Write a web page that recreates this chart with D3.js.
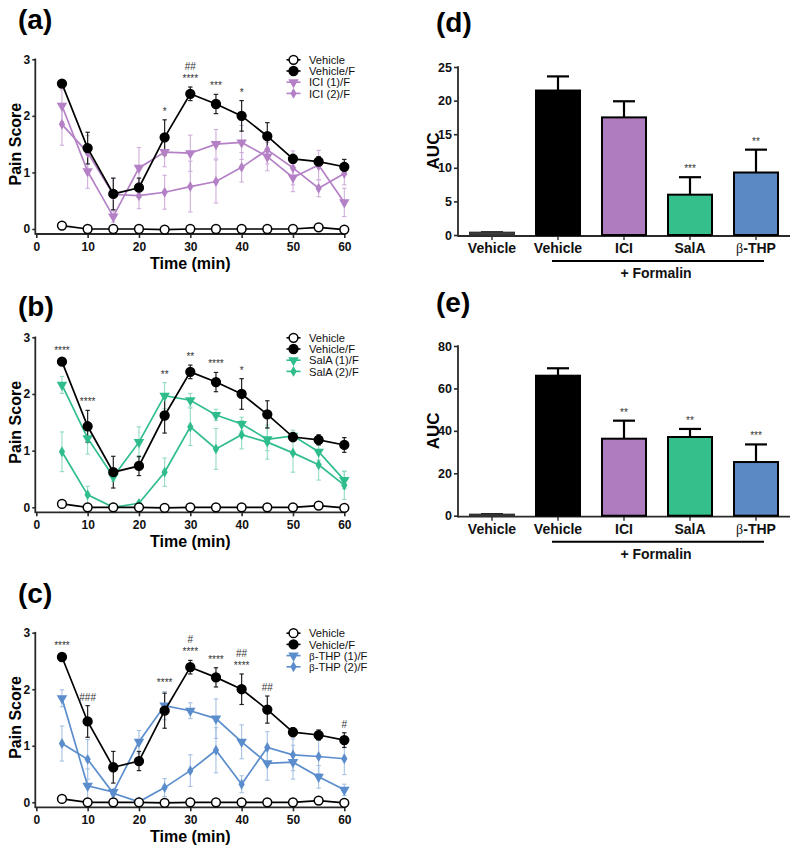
<!DOCTYPE html>
<html><head><meta charset="utf-8">
<script src="https://cdn.jsdelivr.net/npm/d3@7/dist/d3.min.js"></script>
<style>
body{margin:0;background:#fff}
text{font-family:"Liberation Sans",Arial,sans-serif}
</style>
</head><body>
<svg id="chart" width="800" height="852"></svg>
<script>
// ---------------- DATA ----------------
const times = [5,10,15,20,25,30,35,40,45,50,55,60];
const timeTicks = [0,10,20,30,40,50,60];
const painTicks = [0,1,2,3];

const vehicle    = [0.06,0.00,0.00,0.00,-0.01,0.00,0.00,0.00,0.00,0.00,0.03,-0.01];
const vehicleErr = [0.02,0.01,0.01,0.01,0.01,0.01,0.01,0.01,0.01,0.01,0.02,0.01];
const vehicleF    = [2.57,1.43,0.62,0.73,1.62,2.39,2.21,2.00,1.64,1.24,1.19,1.10];
const vehicleFErr = [0.05,0.28,0.28,0.17,0.31,0.12,0.17,0.27,0.24,0.08,0.09,0.13];

const ici1    = [2.18,1.02,0.22,1.08,1.36,1.34,1.50,1.53,1.28,0.91,1.13,0.47];
const ici1Err = [0.28,0.30,0.10,0.36,0.26,0.32,0.26,0.30,0.25,0.25,0.26,0.25];
const ici2    = [1.85,1.35,0.61,0.59,0.65,0.75,0.84,1.09,1.40,1.08,0.72,0.98];
const ici2Err = [0.37,0.30,0.28,0.23,0.30,0.45,0.38,0.26,0.25,0.30,0.15,0.20];

const salA1    = [2.16,1.22,0.54,1.15,1.97,1.89,1.63,1.47,1.20,1.26,0.98,0.48];
const salA1Err = [0.15,0.28,0.08,0.27,0.23,0.12,0.10,0.12,0.20,0.10,0.15,0.15];
const salA2    = [0.98,0.22,0.00,0.07,0.62,1.42,1.03,1.28,1.15,0.96,0.75,0.39];
const salA2Err = [0.35,0.15,0.02,0.03,0.25,0.33,0.36,0.25,0.30,0.34,0.27,0.25];

const thp1    = [1.84,0.29,0.18,1.07,1.71,1.62,1.48,1.07,0.69,0.71,0.45,0.22];
const thp1Err = [0.15,0.30,0.05,0.20,0.25,0.14,0.35,0.30,0.30,0.30,0.20,0.10];
const thp2    = [1.04,0.76,0.16,0.01,0.26,0.56,0.92,0.32,0.97,0.84,0.81,0.77];
const thp2Err = [0.31,0.35,0.05,0.02,0.16,0.28,0.40,0.15,0.28,0.28,0.30,0.28];

const annA = [{t:25,lines:["*"]},{t:30,lines:["****","##"]},{t:35,lines:["***"]},{t:40,lines:["*"]}];
const annB = [{t:5,lines:["****"]},{t:10,lines:["****"]},{t:25,lines:["**"]},{t:30,lines:["**"]},{t:35,lines:["****"]},{t:40,lines:["*"]}];
const annC = [{t:5,lines:["****"]},{t:10,lines:["###"]},{t:25,lines:["****"]},{t:30,lines:["****","#"]},{t:35,lines:["****"]},{t:40,lines:["****","##"]},{t:45,lines:["##"]},{t:60,lines:["#"]}];

const barGroups = ["Vehicle","Vehicle/F","ICI","SalA","THP"];
const barLabels = ["Vehicle","Vehicle","ICI","SalA","β-THP"];
const aucD    = [0.35,21.5,17.5,6.0,9.3];
const aucDErr = [0.05,2.1,2.4,2.6,3.4];
const aucDStars = ["","","","***","**"];
const aucDTicks = [0,5,10,15,20,25];
const aucE    = [0.5,66.0,36.3,37.1,25.3];
const aucEErr = [0.2,3.5,8.5,3.8,8.3];
const aucEStars = ["","","**","**","***"];
const aucETicks = [0,20,40,60,80];

// ---------------- STYLE ----------------
const PURPLE = "#b480c6", PURPLE_E = "#cfaedb", PURPLE_BAR = "#b07cc0";
const GREEN = "#30bd8c", GREEN_E = "#93dcbf", GREEN_BAR = "#35c08b";
const BLUE = "#5b8dcc", BLUE_E = "#a6c1e4", BLUE_BAR = "#5b89c4";
const AX = "#2a2a2a";

const svg = d3.select("#chart");
svg.append("rect").attr("width",800).attr("height",852).attr("fill","#fff");

function marker(g, type, cx, cy, color, fill){
  if(type==="circle"){
    g.append("circle").attr("cx",cx).attr("cy",cy).attr("r",4.4)
      .attr("fill",fill).attr("stroke",color).attr("stroke-width",1.5);
  } else if(type==="tri"){
    g.append("path").attr("d",d3.symbol().type(d3.symbolTriangle).size(48)())
      .attr("transform",`translate(${cx},${cy}) rotate(180)`).attr("fill",color);
  } else {
    g.append("path").attr("d",d3.symbol().type(d3.symbolDiamond).size(34)())
      .attr("transform",`translate(${cx},${cy})`).attr("fill",color);
  }
}

function labelText(sel, s){
  if(s.indexOf("β")>=0){
    const parts = s.split("β");
    sel.append("tspan").text(parts[0]);
    sel.append("tspan").text("β").style("font-family","'Liberation Serif','Times New Roman',serif").style("font-weight","normal");
    sel.append("tspan").text(parts[1]);
  } else sel.text(s);
}

function linePanel(cfg){
  const g = svg.append("g");
  const x = d3.scaleLinear().domain([0,60]).range([36.3,344.3]);
  const y = d3.scaleLinear().domain([0,3]).range([cfg.y0,cfg.y3]);
  const axY = cfg.y0 + 5;
  g.append("text").attr("x",18).attr("y",cfg.labelY).attr("font-size",28).attr("font-weight","bold").text(cfg.label);
  const ya = g.append("g").attr("transform",`translate(35.3,0)`)
    .call(d3.axisLeft(y).tickValues(painTicks).tickSize(3).tickPadding(2).tickFormat(d3.format("d")));
  ya.select(".domain").remove();
  ya.selectAll("line").attr("stroke",AX).attr("stroke-width",1.6);
  ya.selectAll("text").attr("font-size",12).attr("font-weight","bold").attr("fill","#111")
    .style("font-family","'Liberation Sans',Arial,sans-serif");
  const xa = g.append("g").attr("transform",`translate(0,${axY})`)
    .call(d3.axisBottom(x).tickValues(timeTicks).tickSize(4).tickPadding(4));
  xa.select(".domain").remove();
  xa.selectAll("line").attr("stroke",AX).attr("stroke-width",1.6);
  xa.selectAll("text").attr("font-size",12).attr("font-weight","bold").attr("fill","#111")
    .style("font-family","'Liberation Sans',Arial,sans-serif");
  g.append("line").attr("x1",35.3).attr("x2",35.3).attr("y1",cfg.y3-0.8).attr("y2",axY+0.8).attr("stroke",AX).attr("stroke-width",1.8);
  g.append("line").attr("x1",35.3).attr("x2",345).attr("y1",axY).attr("y2",axY).attr("stroke",AX).attr("stroke-width",1.8);
  g.append("text").attr("transform",`translate(20.5,${(cfg.y0+cfg.y3)/2}) rotate(-90)`)
    .attr("text-anchor","middle").attr("font-size",16).attr("font-weight","bold").text("Pain Score");
  g.append("text").attr("x",190.3).attr("y",cfg.y0+39.5).attr("text-anchor","middle")
    .attr("font-size",16).attr("font-weight","bold").text("Time (min)");

  const series = [
    {vals:cfg.s2, errs:cfg.s2e, color:cfg.color, ecolor:cfg.ecolor, type:"dia", fill:cfg.color},
    {vals:cfg.s1, errs:cfg.s1e, color:cfg.color, ecolor:cfg.ecolor, type:"tri", fill:cfg.color},
    {vals:vehicle, errs:vehicleErr, color:"#000", ecolor:"#000", type:"circle", fill:"#fff"},
    {vals:vehicleF, errs:vehicleFErr, color:"#000", ecolor:"#222", type:"circle", fill:"#000"}
  ];
  const line = d3.line().x((d,i)=>x(times[i])).y(d=>y(d));
  series.forEach(s=>{
    s.vals.forEach((v,i)=>{
      const cx = x(times[i]), lo=y(v-s.errs[i]), hi=y(v+s.errs[i]);
      const eg = g.append("g").attr("stroke",s.ecolor).attr("stroke-width",s.color==="#000"?1.2:1.1);
      eg.append("line").attr("x1",cx).attr("x2",cx).attr("y1",lo).attr("y2",hi);
      eg.append("line").attr("x1",cx-2.2).attr("x2",cx+2.2).attr("y1",lo).attr("y2",lo);
      eg.append("line").attr("x1",cx-2.2).attr("x2",cx+2.2).attr("y1",hi).attr("y2",hi);
    });
  });
  series.forEach(s=>{
    g.append("path").datum(s.vals).attr("d",line).attr("fill","none")
      .attr("stroke",s.color).attr("stroke-width",1.7);
    s.vals.forEach((v,i)=>marker(g,s.type,x(times[i]),y(v),s.color,s.fill));
  });
  cfg.ann.forEach(a=>{
    const i = times.indexOf(a.t);
    const top = d3.max([vehicleF[i]+vehicleFErr[i], cfg.s1[i]+cfg.s1e[i], cfg.s2[i]+cfg.s2e[i]]);
    a.lines.forEach((txt,k)=>{
      g.append("text").attr("x",x(a.t)).attr("y",y(top)-5-k*12).attr("text-anchor","middle")
        .attr("font-size",10).attr("fill","#333").text(txt);
    });
  });
  const leg = [
    {name:"Vehicle", type:"circle", color:"#000", fill:"#fff"},
    {name:"Vehicle/F", type:"circle", color:"#000", fill:"#000"},
    {name:cfg.n1, type:"tri", color:cfg.color, fill:cfg.color},
    {name:cfg.n2, type:"dia", color:cfg.color, fill:cfg.color}
  ];
  leg.forEach((l,k)=>{
    const ly = cfg.y3 + 0.5 + k*11.2;
    g.append("line").attr("x1",286.5).attr("x2",300.5).attr("y1",ly).attr("y2",ly).attr("stroke",l.color).attr("stroke-width",1.6);
    marker(g,l.type,293.5,ly,l.color,l.fill);
    labelText(g.append("text").attr("x",309).attr("y",ly+4.1).attr("font-size",11.2).attr("fill","#111"), l.name);
  });
}

linePanel({label:"(a)", labelY:29, y0:229, y3:59.3, s1:ici1, s1e:ici1Err, s2:ici2, s2e:ici2Err,
  color:PURPLE, ecolor:PURPLE_E, n1:"ICI (1)/F", n2:"ICI (2)/F", ann:annA});
linePanel({label:"(b)", labelY:316, y0:507.3, y3:337.3, s1:salA1, s1e:salA1Err, s2:salA2, s2e:salA2Err,
  color:GREEN, ecolor:GREEN_E, n1:"SalA (1)/F", n2:"SalA (2)/F", ann:annB});
linePanel({label:"(c)", labelY:603, y0:802.3, y3:632.7, s1:thp1, s1e:thp1Err, s2:thp2, s2e:thp2Err,
  color:BLUE, ecolor:BLUE_E, n1:"β-THP (1)/F", n2:"β-THP (2)/F", ann:annC});

function barPanel(cfg){
  const g = svg.append("g");
  const x = d3.scaleBand().domain(barGroups).range([459,789]).paddingInner(1/3).paddingOuter(1/6);
  const y = d3.scaleLinear().domain([0,cfg.max]).range([cfg.y0,cfg.yTop]);
  const fills = ["#555","#000",PURPLE_BAR,GREEN_BAR,BLUE_BAR];
  g.append("text").attr("x",436).attr("y",cfg.labelY).attr("font-size",28).attr("font-weight","bold").text(cfg.label);
  const ya = g.append("g").attr("transform","translate(458,0)")
    .call(d3.axisLeft(y).tickValues(cfg.ticks).tickSize(4).tickPadding(2).tickFormat(d3.format("d")));
  ya.select(".domain").remove();
  ya.selectAll("line").attr("stroke",AX).attr("stroke-width",1.6);
  ya.selectAll("text").attr("font-size",12.5).attr("font-weight","bold").attr("fill","#111")
    .style("font-family","'Liberation Sans',Arial,sans-serif");
  g.append("line").attr("x1",458).attr("x2",458).attr("y1",cfg.yTop-0.8).attr("y2",cfg.y0+1.8).attr("stroke",AX).attr("stroke-width",1.8);
  g.append("line").attr("x1",458).attr("x2",790).attr("y1",cfg.y0+1).attr("y2",cfg.y0+1).attr("stroke",AX).attr("stroke-width",1.8);
  barGroups.forEach((c,i)=>{
    const cx = x(c)+x.bandwidth()/2;
    g.append("line").attr("x1",cx).attr("x2",cx).attr("y1",cfg.y0+1).attr("y2",cfg.y0+5).attr("stroke",AX).attr("stroke-width",1.4);
    const top = y(cfg.vals[i]+cfg.errs[i]);
    g.append("line").attr("x1",cx).attr("x2",cx).attr("y1",y(cfg.vals[i])).attr("y2",top).attr("stroke","#000").attr("stroke-width",2.2);
    g.append("line").attr("x1",cx-11).attr("x2",cx+11).attr("y1",top).attr("y2",top).attr("stroke","#000").attr("stroke-width",2.2);
    g.append("rect").attr("x",x(c)).attr("width",x.bandwidth())
      .attr("y",y(cfg.vals[i])).attr("height",cfg.y0-y(cfg.vals[i]))
      .attr("fill",fills[i]).attr("stroke",i===0?"#333":"#000").attr("stroke-width",2);
    if(cfg.stars[i]) g.append("text").attr("x",cx).attr("y",top-5).attr("text-anchor","middle")
      .attr("font-size",10).attr("fill","#333").text(cfg.stars[i]);
    labelText(g.append("text").attr("x",cx).attr("y",cfg.y0+18).attr("text-anchor","middle")
      .attr("font-size",14).attr("font-weight","bold").attr("fill","#111"), barLabels[i]);
  });
  g.append("line").attr("x1",552).attr("x2",764).attr("y1",cfg.y0+26).attr("y2",cfg.y0+26).attr("stroke","#000").attr("stroke-width",2);
  g.append("text").attr("x",656).attr("y",cfg.y0+43).attr("text-anchor","middle").attr("font-size",14)
    .attr("font-weight","bold").attr("fill","#111").text("+ Formalin");
  g.append("text").attr("transform",`translate(439,${(cfg.y0+cfg.yTop)/2}) rotate(-90)`)
    .attr("text-anchor","middle").attr("font-size",17).attr("font-weight","bold").text("AUC");
}

barPanel({label:"(d)", labelY:32, y0:235, yTop:67, max:25, ticks:aucDTicks, vals:aucD, errs:aucDErr, stars:aucDStars});
barPanel({label:"(e)", labelY:312, y0:515.7, yTop:346, max:80, ticks:aucETicks, vals:aucE, errs:aucEErr, stars:aucEStars});
</script>
</body></html>
